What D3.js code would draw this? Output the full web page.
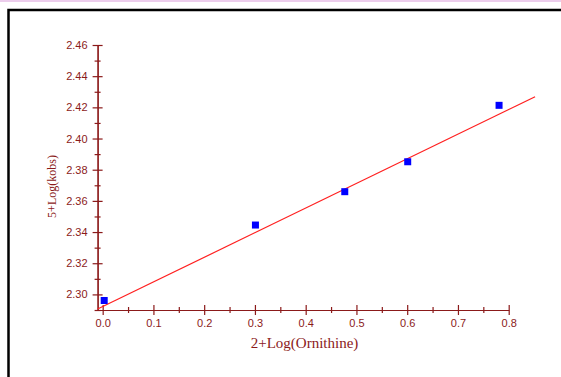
<!DOCTYPE html>
<html>
  <head>
    <meta charset="utf-8">
    <title>kobs vs Ornithine</title>
    <script src="https://d3js.org/d3.v7.min.js"></script>
    <style>
      body { margin: 0; background: #fff; }
      .tickLabel { font-family: "Liberation Sans", Arial, sans-serif; font-size: 11px; fill: #8b1a1a; }
      .axisTitle { font-family: "Liberation Serif", "Times New Roman", serif; fill: #8b1a1a; }
    </style>
  </head>
  <body>
    <svg id="chart" width="561" height="377"></svg>
    <script>
      // data
      var logOrn = [0.003, 0.301, 0.477, 0.601, 0.781];
      var logKobs = [2.2961, 2.3445, 2.3659, 2.3851, 2.4213];
      var fitX = [-0.01, 0.852];
      var fitY = [2.2906, 2.4268];
      var xTicks = [0.0, 0.1, 0.2, 0.3, 0.4, 0.5, 0.6, 0.7, 0.8];
      var xMinor = [0.05, 0.15, 0.25, 0.35, 0.45, 0.55, 0.65, 0.75];
      var yTicks = [2.30, 2.32, 2.34, 2.36, 2.38, 2.40, 2.42, 2.44, 2.46];
      var yMinor = [2.29, 2.31, 2.33, 2.35, 2.37, 2.39, 2.41, 2.43, 2.45];

      var axisColor = "#8b1a1a";
      chart = d3.select("#chart");

      // frame
      chart.append("rect").attr("x", 0).attr("y", 0).attr("width", 561).attr("height", 2).attr("fill", "#eccdec");
      chart.append("path")
        .attr("d", "M8.5,377V10H561")
        .attr("fill", "none")
        .attr("stroke", "#000")
        .attr("stroke-width", 2.5);

      x = d3.scaleLinear().domain([-0.01, 0.8]).range([97.6, 508.7]);
      y = d3.scaleLinear().domain([2.29, 2.46]).range([310, 45]);

      // minor ticks
      xMinorGroup = chart.append("g").attr("transform", "translate(0,310)")
        .call(d3.axisBottom(x).tickValues(xMinor).tickFormat("").tickSizeOuter(0).tickSizeInner(3));
      xMinorGroup.selectAll(".tick line").attr("y1", -3);
      yMinorGroup = chart.append("g").attr("transform", "translate(97.6,0)")
        .call(d3.axisLeft(y).tickValues(yMinor).tickFormat("").tickSizeOuter(0).tickSizeInner(3));
      yMinorGroup.selectAll(".tick line").attr("x1", 3);

      // major ticks
      xAxisGroup = chart.append("g").attr("transform", "translate(0,310)")
        .call(d3.axisBottom(x).tickValues(xTicks).tickFormat(d3.format(".1f")).tickSizeOuter(0).tickSizeInner(5).tickPadding(4));
      xAxisGroup.selectAll(".tick line").attr("y1", -5);
      yAxisGroup = chart.append("g").attr("transform", "translate(97.6,0)")
        .call(d3.axisLeft(y).tickValues(yTicks).tickFormat(d3.format(".2f")).tickSizeOuter(0).tickSizeInner(5).tickPadding(5));
      yAxisGroup.selectAll(".tick line").attr("x1", 5);

      chart.selectAll(".domain, .tick line").attr("stroke", axisColor).attr("stroke-width", 1.2);
      chart.selectAll(".tick text").attr("class", "tickLabel").attr("font-family", null).attr("font-size", null);

      // titles
      chart.append("text")
        .classed("axisTitle", true)
        .attr("x", 304.5)
        .attr("y", 348)
        .attr("font-size", 15)
        .attr("text-anchor", "middle")
        .text("2+Log(Ornithine)");
      chart.append("text")
        .classed("axisTitle", true)
        .attr("transform", "translate(56,186.5) rotate(-90)")
        .attr("font-size", 12)
        .attr("text-anchor", "middle")
        .text("5+Log(kobs)");

      // fit line
      chart.append("line")
        .attr("x1", x(fitX[0])).attr("y1", y(fitY[0]))
        .attr("x2", x(fitX[1])).attr("y2", y(fitY[1]))
        .attr("stroke", "#ff2020")
        .attr("stroke-width", 1.2);

      // points
      chart.selectAll(".pt")
        .data(logOrn)
        .enter().append("rect")
          .classed("pt", true)
          .attr("x", function(d) { return x(d) - 3.5; })
          .attr("y", function(d, i) { return y(logKobs[i]) - 3.5; })
          .attr("width", 7)
          .attr("height", 7)
          .attr("fill", "#0000ff");
    </script>
  </body>
</html>
